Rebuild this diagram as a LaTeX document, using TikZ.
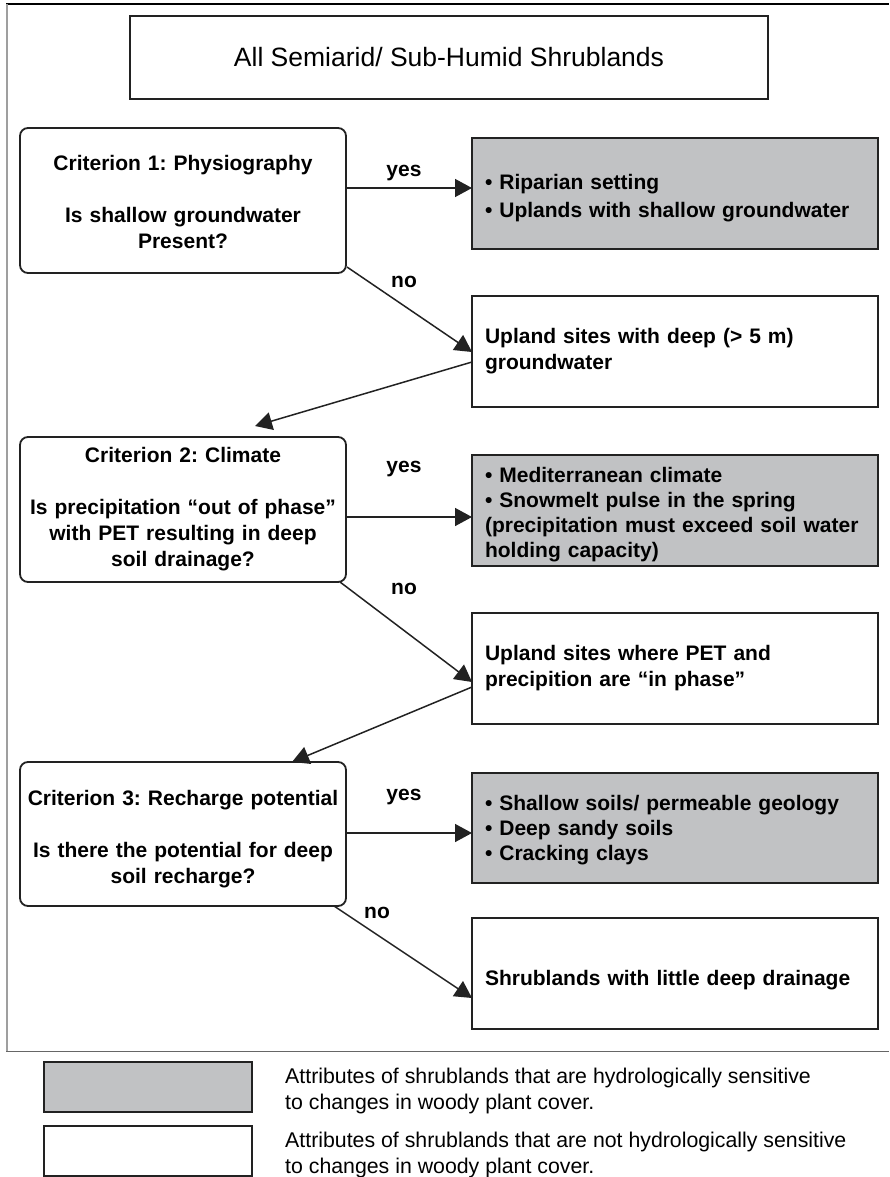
\documentclass[tikz,border=0pt]{standalone}
\usepackage{fontspec}
\setmainfont{Liberation Sans}
\usetikzlibrary{arrows.meta}
\frenchspacing
\definecolor{boxgray}{HTML}{C1C2C4}
\definecolor{edge}{HTML}{222222}
\newcommand{\topstrut}[1]{\rule{0pt}{#1pt}}
\tikzset{
  base/.style={draw=edge, line width=1.8pt, inner sep=0pt, outer sep=0pt},
  critbox/.style={base, rounded corners=8pt, minimum width=326pt, text width=316pt, align=center,
    font=\bfseries\fontsize{21}{26}\selectfont},
  resbox/.style={base, minimum width=406pt, minimum height=111pt, text width=380pt, align=left,
    font=\bfseries\fontsize{21}{26}\selectfont},
  sens/.style={resbox, fill=boxgray},
  nsens/.style={resbox, fill=white},
  lbl/.style={font=\bfseries\fontsize{21}{26}\selectfont, inner sep=0pt, anchor=base},
  legtext/.style={font=\fontsize{21.3}{25.5}\selectfont, align=left, anchor=west, inner sep=0pt},
  arr/.style={line width=1.5pt, draw=edge, -{Triangle[length=17pt,width=18pt]}},
}
\begin{document}
\begin{tikzpicture}[x=1pt,y=-1pt]
\useasboundingbox (0,0) rectangle (889,1177);
% outer frame
\draw[black, line width=1.6pt] (6,4) -- (889,4);
\draw[gray!75, line width=2pt] (7,4) -- (7,1051);
\draw[gray!80!black, line width=1pt] (6,1051) -- (889,1051);
% title
\node[base, minimum width=638pt, minimum height=83pt, font=\fontsize{26.5}{30}\selectfont] (title) at (449,57.5) {All Semiarid/ Sub-Humid Shrublands};
% criteria
\node[critbox, minimum height=145pt] (c1) at (183,200.5) {\topstrut{18.5}Criterion 1: Physiography\\[26pt]Is shallow groundwater\\Present?};
\node[critbox, minimum height=145pt] (c2) at (183,509.5) {Criterion 2: Climate\\[26pt]Is precipitation ``out of phase''\\with PET resulting in deep\\soil drainage?};
\node[critbox, minimum height=144pt] (c3) at (183,834) {\topstrut{25.5}Criterion 3: Recharge potential\\[26pt]Is there the potential for deep\\soil recharge?};
% results
\node[sens] (g1) at (675,193.5) {\topstrut{25}\textbullet\ Riparian setting\\[2pt]\textbullet\ Uplands with shallow groundwater};
\node[nsens] (w1) at (675,351.5) {Upland sites with deep (> 5 m)\\groundwater};
\node[sens, font=\bfseries\fontsize{21}{25}\selectfont] (g2) at (675,510.5) {\topstrut{22.5}\textbullet\ Mediterranean climate\\\textbullet\ Snowmelt pulse in the spring\\(precipitation must exceed soil water\\holding capacity)};
\node[nsens] (w2) at (675,668.5) {Upland sites where PET and\\precipition are ``in phase''\\[4pt]};
\node[sens, minimum height=110pt, font=\bfseries\fontsize{21}{25}\selectfont] (g3) at (675,828) {\topstrut{19.5}\textbullet\ Shallow soils/ permeable geology\\\textbullet\ Deep sandy soils\\\textbullet\ Cracking clays};
\node[nsens] (w3) at (675,973.5) {\topstrut{27.5}Shrublands with little deep drainage};
% connectors
\draw[arr] (c1.east |- 0,188) -- (g1.west |- 0,188);
\draw[arr] (c1.south east) ++(1,-6) coordinate (n1s) (n1s) -- (w1.west |- 0,352);
\draw[arr] (w1.west |- 0,362) -- (255,426) coordinate (c2in);
\draw[arr] (c2.east |- 0,517) -- (g2.west |- 0,517);
\draw[arr] (c2.south east) ++(-6,0) coordinate (n2s) (n2s) -- (w2.west |- 0,682);
\draw[arr] (w2.west |- 0,687) -- (c3.north -| 292,0);
\draw[arr] (c3.east |- 0,833) -- (g3.west |- 0,833);
\draw[arr] (c3.south east) ++(-12,0) coordinate (n3s) (n3s) -- (w3.west |- 0,998);
% labels
\node[lbl] (y1) at (404,177) {yes};
\node[lbl] (no1) at (404,287) {no};
\node[lbl] (y2) at (404,472) {yes};
\node[lbl] (no2) at (404,594) {no};
\node[lbl] (y3) at (404,800) {yes};
\node[lbl] (no3) at (377,918) {no};
% legend
\node[base, fill=boxgray, minimum width=208pt, minimum height=50pt] (lg) at (148,1087) {};
\node[base, fill=white, minimum width=208pt, minimum height=50pt] (lw) at (148,1151) {};
\node[legtext] (lgt) at (285,1091) {Attributes of shrublands that are hydrologically sensitive\\to changes in woody plant cover.};
\node[legtext] (lwt) at (285,1155) {Attributes of shrublands that are not hydrologically sensitive\\to changes in woody plant cover.};
\end{tikzpicture}
\end{document}
